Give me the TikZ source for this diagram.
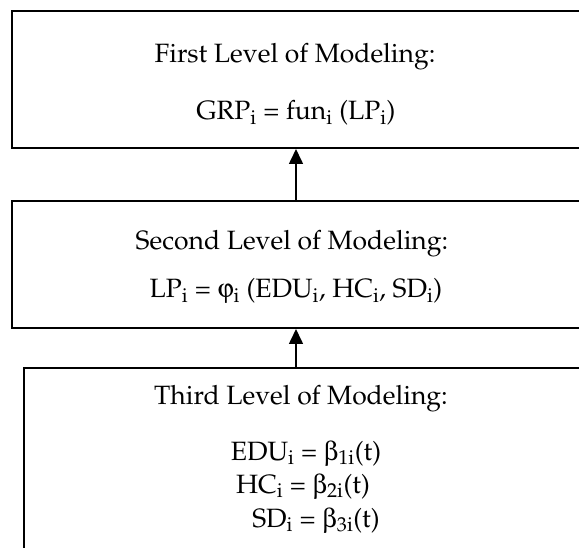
\documentclass[tikz,border=0pt]{standalone}
\usepackage[T1]{fontenc}
\usepackage{mathpazo}
\usepackage[Symbol]{upgreek}
\usetikzlibrary{arrows.meta,positioning,calc}
\newcommand{\sub}[1]{\textsubscript{#1}}

\begin{document}
\begin{tikzpicture}[x=1pt,y=-1pt,
  lvlbox/.style={draw,line width=2pt,rectangle,inner sep=0pt,anchor=north west,minimum width=620pt},
  lvltext/.style={anchor=base,inner sep=0pt,font=\fontsize{26.5}{32}\selectfont},
  up/.style={-{Triangle[length=15pt,width=14pt]},line width=1.6pt}]
  \useasboundingbox (0,0) rectangle (579,548);
  \clip (0,0) rectangle (579,548);
  % Boxes for the three levels
  \node[lvlbox,minimum height=137pt] (lvl1) at (11,10) {};
  \node[lvlbox,minimum height=127pt] (lvl2) at (11,200) {};
  \node[lvlbox,minimum height=220pt] (lvl3) at (23,367) {};

  % Texts of the levels
  \node[lvltext] (head1) at (295,63) {First Level of Modeling:};
  \node[lvltext] (eq1) at (296,120) {GRP\sub{i} = fun\sub{i} (LP\sub{i})};
  \node[lvltext] (head2) at (292,250) {Second Level of Modeling:};
  \node[lvltext] (eq2) at (296,298) {LP\sub{i} = $\upvarphi$\sub{i} (EDU\sub{i}, HC\sub{i}, SD\sub{i})};
  \node[lvltext] (head3) at (301,405) {Third Level of Modeling:};
  \node[lvltext] (edu) at (306,460) {EDU\sub{i} = $\upbeta$\sub{1i}(t)};
  \node[lvltext] (hc) at (303,493) {HC\sub{i} = $\upbeta$\sub{2i}(t)};
  \node[lvltext] (sd) at (316,527) {SD\sub{i} = $\upbeta$\sub{3i}(t)};

  % Arrows between the levels
  \coordinate (mid) at (296,0);
  \draw[up] (lvl2.north -| mid) -- (lvl1.south -| mid);
  \draw[up] (lvl3.north -| mid) -- (lvl2.south -| mid);
\end{tikzpicture}
\end{document}
